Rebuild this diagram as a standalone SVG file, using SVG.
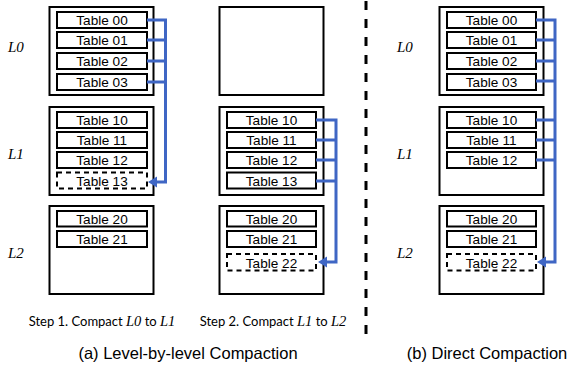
<svg xmlns="http://www.w3.org/2000/svg" width="577" height="368" viewBox="0 0 577 368">
<style>
.lvl{fill:#fff;stroke:#000;stroke-width:2}
.tbl{fill:#fff;stroke:#000;stroke-width:2}
.new{fill:#fff;stroke:#000;stroke-width:2;stroke-dasharray:5 4}
.tt{font-family:"Liberation Sans",Arial,sans-serif;font-size:13.6px;text-anchor:middle;fill:#000}
.lab{font-family:"Liberation Serif","Times New Roman",serif;font-style:italic;font-size:15px;fill:#000}
.step{font-family:Lato,"Liberation Sans",sans-serif;font-size:13px;text-anchor:middle;fill:#000}
.m{font-family:"Liberation Serif",serif;font-style:italic;font-size:14.5px}
.cap{font-family:"Liberation Sans",Arial,sans-serif;font-size:16.5px;text-anchor:middle;fill:#000}
.con{fill:none;stroke:#3F66C4;stroke-width:3;stroke-linejoin:miter}
.head{fill:#3F66C4;stroke:none}
</style>

<!-- Column 1 -->
<g id="c1-l0"><rect class="lvl" x="49.5" y="7" width="104" height="88"/></g>
<g id="c1-l1"><rect class="lvl" x="49.5" y="107" width="104" height="88"/></g>
<g id="c1-l2"><rect class="lvl" x="49.5" y="206" width="104" height="88"/></g>
<g id="c1-t00"><rect class="tbl" x="57" y="12" width="90" height="16"/><text class="tt" x="102" y="25">Table 00</text></g>
<g id="c1-t01"><rect class="tbl" x="57" y="32" width="90" height="16"/><text class="tt" x="102" y="45">Table 01</text></g>
<g id="c1-t02"><rect class="tbl" x="57" y="53" width="90" height="16"/><text class="tt" x="102" y="66">Table 02</text></g>
<g id="c1-t03"><rect class="tbl" x="57" y="74" width="90" height="16"/><text class="tt" x="102" y="87">Table 03</text></g>
<g id="c1-t10"><rect class="tbl" x="57" y="112" width="90" height="16"/><text class="tt" x="102" y="125">Table 10</text></g>
<g id="c1-t11"><rect class="tbl" x="57" y="132" width="90" height="16"/><text class="tt" x="102" y="145">Table 11</text></g>
<g id="c1-t12"><rect class="tbl" x="57" y="152" width="90" height="16"/><text class="tt" x="102" y="165">Table 12</text></g>
<g id="c1-t13"><rect class="new" x="57" y="172.5" width="90" height="16"/><text class="tt" x="102" y="185.5">Table 13</text></g>
<g id="c1-t20"><rect class="tbl" x="57" y="211" width="90" height="15.5"/><text class="tt" x="102" y="223.7">Table 20</text></g>
<g id="c1-t21"><rect class="tbl" x="57" y="231" width="90" height="16"/><text class="tt" x="102" y="244">Table 21</text></g>

<!-- Column 2 -->
<g id="c2-l0"><rect class="lvl" x="219.5" y="7" width="104" height="88"/></g>
<g id="c2-l1"><rect class="lvl" x="219.5" y="107" width="104" height="88"/></g>
<g id="c2-l2"><rect class="lvl" x="219.5" y="206" width="104" height="88"/></g>
<g id="c2-t10"><rect class="tbl" x="227" y="112" width="89" height="16"/><text class="tt" x="271.5" y="125">Table 10</text></g>
<g id="c2-t11"><rect class="tbl" x="227" y="132" width="89" height="16"/><text class="tt" x="271.5" y="145">Table 11</text></g>
<g id="c2-t12"><rect class="tbl" x="227" y="152" width="89" height="16"/><text class="tt" x="271.5" y="165">Table 12</text></g>
<g id="c2-t13"><rect class="tbl" x="227" y="172.5" width="89" height="16"/><text class="tt" x="271.5" y="185.5">Table 13</text></g>
<g id="c2-t20"><rect class="tbl" x="227" y="211" width="89" height="15.5"/><text class="tt" x="271.5" y="223.7">Table 20</text></g>
<g id="c2-t21"><rect class="tbl" x="227" y="231" width="89" height="16"/><text class="tt" x="271.5" y="244">Table 21</text></g>
<g id="c2-t22"><rect class="new" x="227" y="254" width="89" height="16.5"/><text class="tt" x="271.5" y="267.5">Table 22</text></g>

<!-- Column 3 -->
<g id="c3-l0"><rect class="lvl" x="439.5" y="7" width="104" height="88"/></g>
<g id="c3-l1"><rect class="lvl" x="439.5" y="107" width="104" height="88"/></g>
<g id="c3-l2"><rect class="lvl" x="439.5" y="206" width="104" height="88"/></g>
<g id="c3-t00"><rect class="tbl" x="447" y="12" width="89" height="16"/><text class="tt" x="491.5" y="25">Table 00</text></g>
<g id="c3-t01"><rect class="tbl" x="447" y="32" width="89" height="16"/><text class="tt" x="491.5" y="45">Table 01</text></g>
<g id="c3-t02"><rect class="tbl" x="447" y="53" width="89" height="16"/><text class="tt" x="491.5" y="66">Table 02</text></g>
<g id="c3-t03"><rect class="tbl" x="447" y="74" width="89" height="16"/><text class="tt" x="491.5" y="87">Table 03</text></g>
<g id="c3-t10"><rect class="tbl" x="447" y="112" width="89" height="16"/><text class="tt" x="491.5" y="125">Table 10</text></g>
<g id="c3-t11"><rect class="tbl" x="447" y="132" width="89" height="16"/><text class="tt" x="491.5" y="145">Table 11</text></g>
<g id="c3-t12"><rect class="tbl" x="447" y="152" width="89" height="16"/><text class="tt" x="491.5" y="165">Table 12</text></g>
<g id="c3-t20"><rect class="tbl" x="447" y="211" width="89" height="15.5"/><text class="tt" x="491.5" y="223.7">Table 20</text></g>
<g id="c3-t21"><rect class="tbl" x="447" y="231" width="89" height="16"/><text class="tt" x="491.5" y="244">Table 21</text></g>
<g id="c3-t22"><rect class="new" x="447" y="254" width="89" height="16.5"/><text class="tt" x="491.5" y="267.5">Table 22</text></g>

<!-- Level labels -->
<g id="labels">
<text class="lab" x="8" y="52">L0</text>
<text class="lab" x="8" y="159">L1</text>
<text class="lab" x="8" y="258">L2</text>
<text class="lab" x="397" y="52">L0</text>
<text class="lab" x="397" y="159">L1</text>
<text class="lab" x="397" y="258">L2</text>
</g>

<!-- Connectors -->
<g id="connectors">
<path class="con" d="M147,20 H165.5 M147,40 H165.5 M147,61 H165.5 M147,82 H165.5 M165.5,18.5 V182 H155"/>
<polygon class="head" points="148,182 157,176.5 157,187.5"/>
<path class="con" d="M316,120 H336 M316,140 H336 M316,160 H336 M316,181 H336 M336,118.5 V262 H325"/>
<polygon class="head" points="318,262 327,256.5 327,267.5"/>
<path class="con" d="M536,20 H555 M536,40 H555 M536,61 H555 M536,81 H555 M536,120 H555 M536,140 H555 M536,160 H555 M555,18.5 V262 H545"/>
<polygon class="head" points="537,262 546,256.5 546,267.5"/>
</g>

<!-- Divider -->
<line x1="366" y1="1" x2="366" y2="334" stroke="#000" stroke-width="3" stroke-dasharray="9 9"/>

<!-- Captions -->
<text class="step" x="102" y="326">Step 1. Compact <tspan class="m">L0</tspan> to <tspan class="m">L1</tspan></text>
<text class="step" x="273" y="326">Step 2. Compact <tspan class="m">L1</tspan> to <tspan class="m">L2</tspan></text>
<text class="cap" x="188" y="359">(a) Level-by-level Compaction</text>
<text class="cap" x="487" y="359">(b) Direct Compaction</text>
</svg>
